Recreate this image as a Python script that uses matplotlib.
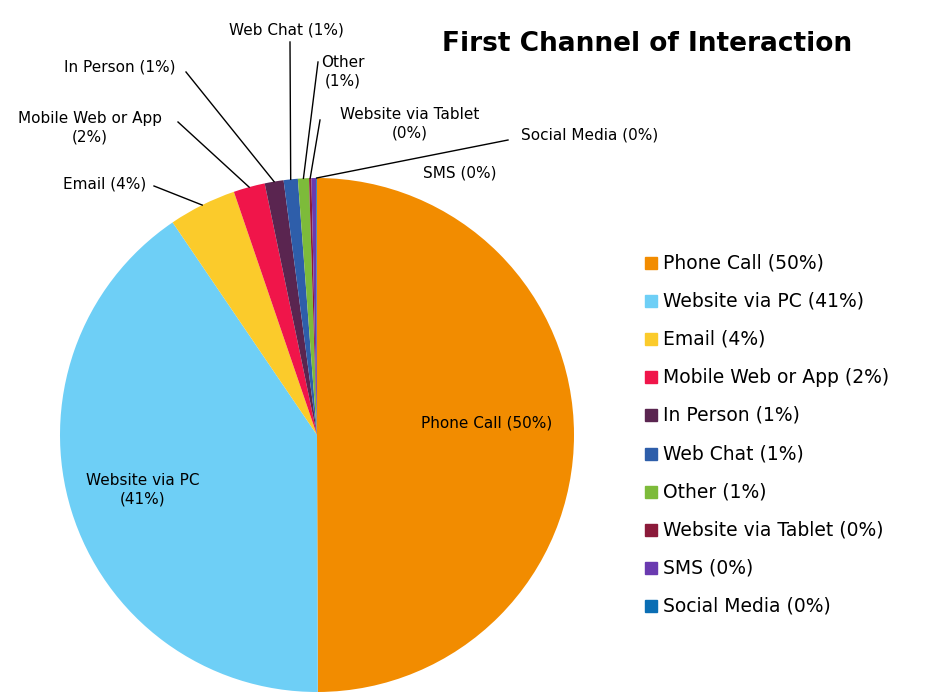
import matplotlib
matplotlib.use("Agg")
import matplotlib.pyplot as plt
import numpy as np

labels = ["Phone Call", "Website via PC", "Email", "Mobile Web or App", "In Person",
          "Web Chat", "Other", "Website via Tablet", "SMS", "Social Media"]
values = [50.5, 41.0, 4.3, 2.0, 1.2, 0.9, 0.7, 0.15, 0.3, 0.05]
pct_text = ["50%", "41%", "4%", "2%", "1%", "1%", "1%", "0%", "0%", "0%"]
colors = ["#F28C00", "#6ECFF6", "#FBCB2B", "#F0154A", "#5A2550",
          "#2E5EAA", "#7DBB3A", "#8B1A3A", "#6A3AB0", "#0A6EB4"]

W, H = 929, 696
fig = plt.figure(figsize=(W/100, H/100), dpi=100)
ax = fig.add_axes([0, 0, 1, 1])
ax.set_xlim(0, W); ax.set_ylim(0, H); ax.set_aspect("equal"); ax.axis("off")

cx, cy, R = 317, H-435, 257
wedges, _ = ax.pie(values, colors=colors, startangle=90, counterclock=False,
                   center=(cx, cy), radius=R, frame=True)
ax.set_xlim(0, W); ax.set_ylim(0, H); ax.axis("off")

fs = 11
def py(y): return H - y
ax.text(487, py(423), "Phone Call (50%)", fontsize=fs, ha="center", va="center")
ax.text(143, py(490), "Website via PC\n(41%)", fontsize=fs, ha="center", va="center", linespacing=1.3)

# outer labels: (index, text, x, y, ha, line start)
outer = [
    (2, "Email (4%)", 105, 184, "center", (154, 186)),
    (3, "Mobile Web or App\n(2%)", 90, 128, "center", (178, 122)),
    (4, "In Person (1%)", 120, 67, "center", (186, 72)),
    (5, "Web Chat (1%)", 286, 30, "center", (290, 42)),
    (6, "Other\n(1%)", 343, 72, "center", (318, 62)),
    (7, "Website via Tablet\n(0%)", 410, 124, "center", (320, 120)),
    (9, "Social Media (0%)", 590, 135, "center", (508, 140)),
]
for i, t, x, y, ha, (lx, ly) in outer:
    ax.text(x, py(y), t, fontsize=fs, ha=ha, va="center", linespacing=1.3)
    w = wedges[i]
    ang = np.deg2rad((w.theta1 + w.theta2) / 2)
    ex, ey = cx + R*np.cos(ang), cy + R*np.sin(ang)
    ax.plot([lx, ex], [py(ly), ey], color="black", lw=1)
ax.text(460, py(173), "SMS (0%)", fontsize=fs, ha="center", va="center")

ax.text(647, py(44), "First Channel of Interaction", fontsize=19, fontweight="bold",
        ha="center", va="center")

for k, (lab, p, c) in enumerate(zip(labels, pct_text, colors)):
    y = 263 + k*38.1
    ax.add_patch(plt.Rectangle((645, py(y)-6), 12, 12, color=c))
    ax.text(663, py(y), f"{lab} ({p})", fontsize=13.5, ha="left", va="center")

fig.savefig("out.png", dpi=100, facecolor="white")
